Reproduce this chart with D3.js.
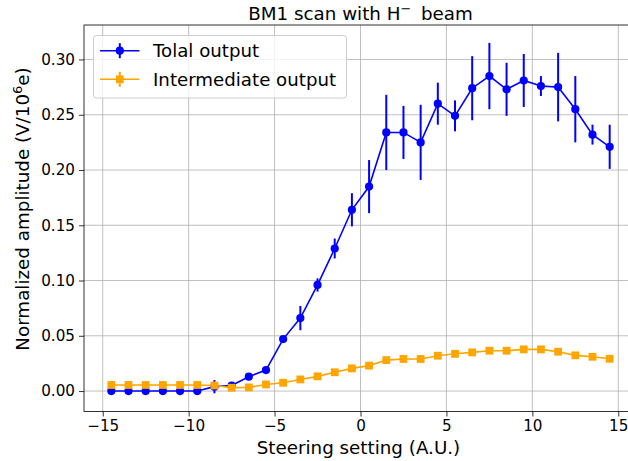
<!DOCTYPE html>
<html>
<head>
<meta charset="utf-8">
<script src="https://cdn.jsdelivr.net/npm/d3@7"></script>
<style>
  html, body { margin: 0; padding: 0; background: #fff; }
  svg { display: block; font-family: "DejaVu Sans", sans-serif; }
</style>
</head>
<body>
<svg id="chart" width="628" height="461"></svg>
<script>
// Steering settings scanned
const steering = [-14.5, -13.5, -12.5, -11.5, -10.5, -9.5, -8.5, -7.5, -6.5, -5.5,
                  -4.5, -3.5, -2.5, -1.5, -0.5, 0.5, 1.5, 2.5, 3.5, 4.5,
                  5.5, 6.5, 7.5, 8.5, 9.5, 10.5, 11.5, 12.5, 13.5, 14.5];

// Total output amplitude and its uncertainty
const totalOutput = [0, 0, 0, 0, 0, 0, 0.004, 0.005, 0.013, 0.019,
                     0.047, 0.066, 0.096, 0.129, 0.164, 0.185, 0.234, 0.234, 0.225, 0.260,
                     0.249, 0.274, 0.285, 0.273, 0.281, 0.276, 0.275, 0.255, 0.232, 0.221];
const totalError = [0, 0, 0, 0, 0, 0, 0.006, 0.002, 0.002, 0.002,
                    0.003, 0.011, 0.006, 0.009, 0.015, 0.024, 0.034, 0.024, 0.034, 0.019,
                    0.014, 0.029, 0.030, 0.024, 0.024, 0.009, 0.031, 0.030, 0.009, 0.020];

// Intermediate output amplitude and its uncertainty
const intermediateOutput = [0.0055, 0.0055, 0.0055, 0.0055, 0.0055, 0.0055, 0.005, 0.003, 0.0033, 0.006,
                            0.0075, 0.0105, 0.0133, 0.017, 0.0205, 0.023, 0.028, 0.029, 0.029, 0.032,
                            0.0337, 0.035, 0.0365, 0.0365, 0.0377, 0.0377, 0.0356, 0.0323, 0.031, 0.0292];
const intermediateError = [0.001, 0.001, 0.001, 0.001, 0.001, 0.001, 0.001, 0.001, 0.001, 0.001,
                           0.001, 0.001, 0.001, 0.001, 0.001, 0.001, 0.001, 0.001, 0.001, 0.001,
                           0.001, 0.001, 0.001, 0.001, 0.001, 0.001, 0.001, 0.001, 0.001, 0.001];

const xTicks = [-15, -10, -5, 0, 5, 10, 15];
const yTicks = [0.00, 0.05, 0.10, 0.15, 0.20, 0.25, 0.30];
const seriesNames = ["Tolal output", "Intermediate output"];
const seriesColors = ["#0000ff", "#ffa500"];

const svg = d3.select("#chart");
const plot = { left: 84, right: 637, top: 25, bottom: 411.5 };

const x = d3.scaleLinear().domain([-16.09, 16.09]).range([plot.left, plot.right]);
const y = d3.scaleLinear().domain([-0.0185, 0.3312]).range([plot.bottom, plot.top]);

const fmtMinus = s => s.replace("-", "\u2212");

// Grid
const grid = svg.append("g");
grid.selectAll(".gx").data(xTicks).join("line")
  .attr("x1", d => x(d)).attr("x2", d => x(d))
  .attr("y1", plot.top).attr("y2", plot.bottom)
  .attr("stroke", "#b0b0b0").attr("stroke-width", 0.8);
grid.selectAll(".gy").data(yTicks).join("line")
  .attr("x1", plot.left).attr("x2", plot.right)
  .attr("y1", d => y(d)).attr("y2", d => y(d))
  .attr("stroke", "#b0b0b0").attr("stroke-width", 0.8);

// Axes
const xAxis = d3.axisBottom(x).tickValues(xTicks).tickSize(5).tickPadding(4)
  .tickFormat(d => fmtMinus(d3.format("d")(d)));
const yAxis = d3.axisLeft(y).tickValues(yTicks).tickSize(5).tickPadding(4)
  .tickFormat(d3.format(".2f"));

const gx = svg.append("g").attr("transform", `translate(0,${plot.bottom})`).call(xAxis);
const gy = svg.append("g").attr("transform", `translate(${plot.left},0)`).call(yAxis);
[gx, gy].forEach(g => {
  g.select(".domain").remove();
  g.selectAll(".tick line").attr("stroke", "#000").attr("stroke-width", 0.8);
  g.selectAll(".tick text").attr("fill", "#000").attr("font-size", 15.2)
    .attr("font-family", "DejaVu Sans");
});

// Frame
svg.append("rect")
  .attr("x", plot.left).attr("y", plot.top)
  .attr("width", plot.right - plot.left).attr("height", plot.bottom - plot.top)
  .attr("fill", "none").attr("stroke", "#000").attr("stroke-width", 0.8);

// Series
const series = [
  { values: totalOutput, errors: totalError, color: seriesColors[0], marker: "circle" },
  { values: intermediateOutput, errors: intermediateError, color: seriesColors[1], marker: "square" }
];

const line = d3.line().x(d => x(d[0])).y(d => y(d[1]));

function drawMarker(g, kind, cx, cy, color) {
  if (kind === "circle") {
    g.append("circle").attr("cx", cx).attr("cy", cy).attr("r", 4.1).attr("fill", color);
  } else {
    g.append("rect").attr("x", cx - 3.9).attr("y", cy - 3.9)
      .attr("width", 7.8).attr("height", 7.8).attr("fill", color);
  }
}

series.forEach(s => {
  const g = svg.append("g");
  const pts = steering.map((v, i) => [v, s.values[i], s.errors[i]]);
  g.selectAll(".err").data(pts).join("line")
    .attr("x1", d => x(d[0])).attr("x2", d => x(d[0]))
    .attr("y1", d => y(d[1] - d[2])).attr("y2", d => y(d[1] + d[2]))
    .attr("stroke", s.color).attr("stroke-width", 2);
  g.append("path").datum(pts).attr("d", line)
    .attr("fill", "none").attr("stroke", s.color).attr("stroke-width", 1.6);
  pts.forEach(d => drawMarker(g, s.marker, x(d[0]), y(d[1]), s.color));
});

// Legend
const legend = svg.append("g");
legend.append("rect")
  .attr("x", 93.5).attr("y", 35.5).attr("width", 253).attr("height", 62.5)
  .attr("rx", 3).attr("fill", "#fff").attr("fill-opacity", 0.8)
  .attr("stroke", "#cccccc").attr("stroke-width", 1);
seriesNames.forEach((name, i) => {
  const cy = 50.7 + i * 28.6;
  const s = series[i];
  legend.append("line").attr("x1", 100).attr("x2", 139.5).attr("y1", cy).attr("y2", cy)
    .attr("stroke", s.color).attr("stroke-width", 1.6);
  legend.append("line").attr("x1", 119.8).attr("x2", 119.8).attr("y1", cy - 7.5).attr("y2", cy + 7.5)
    .attr("stroke", s.color).attr("stroke-width", 2);
  drawMarker(legend, s.marker, 119.8, cy, s.color);
  legend.append("text").attr("x", 153).attr("y", cy + 6.4)
    .attr("font-size", 18.2).attr("fill", "#000").text(name);
});

// Title
const title = svg.append("text").attr("x", 360.5).attr("y", 19.5)
  .attr("text-anchor", "middle").attr("font-size", 18.3).attr("fill", "#000");
title.append("tspan").text("BM1 scan with H");
title.append("tspan").attr("dy", -7).attr("font-size", 13).text("\u2212");
title.append("tspan").attr("dy", 7).text("\u2009 beam");

// Axis labels
svg.append("text").attr("x", 358.5).attr("y", 454)
  .attr("text-anchor", "middle").attr("font-size", 18.3).attr("fill", "#000")
  .text("Steering setting (A.U.)");

const yl = svg.append("text")
  .attr("transform", `translate(29,209) rotate(-90)`)
  .attr("text-anchor", "middle").attr("font-size", 18.3).attr("fill", "#000");
yl.append("tspan").text("Normalized amplitude (V/10");
yl.append("tspan").attr("dy", -7).attr("font-size", 13).text("6");
yl.append("tspan").attr("dy", 7).text("e)");
</script>
</body>
</html>
